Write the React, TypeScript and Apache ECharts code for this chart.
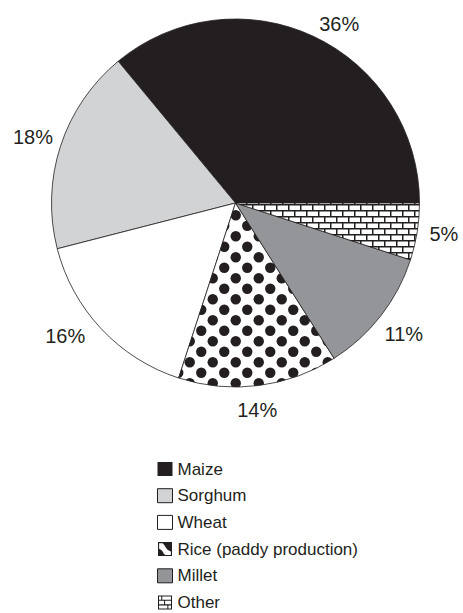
import React, { useEffect, useRef } from "react";
import * as echarts from "echarts";

// ---- data ----
const categories = [
  "Maize",
  "Sorghum",
  "Wheat",
  "Rice (paddy production)",
  "Millet",
  "Other",
];
const shares = [36, 18, 16, 14, 11, 5];
const labelSuffix = "%";

// ---- styles ----
const INK = "#231f20";
const FONT = "'Liberation Sans', Arial, Helvetica, sans-serif";

function makeDots() {
  const w = 23;
  const h = 21;
  const c = document.createElement("canvas");
  c.width = w;
  c.height = h;
  const g = c.getContext("2d")!;
  g.fillStyle = "#ffffff";
  g.fillRect(0, 0, w, h);
  g.fillStyle = INK;
  g.beginPath();
  g.arc(5.75, 5.25, 5.2, 0, Math.PI * 2);
  g.fill();
  g.beginPath();
  g.arc(17.25, 15.75, 5.2, 0, Math.PI * 2);
  g.fill();
  return { image: c, repeat: "repeat", imageWidth: w, imageHeight: h };
}

function makeBricks() {
  const w = 12;
  const h = 12;
  const c = document.createElement("canvas");
  c.width = w;
  c.height = h;
  const g = c.getContext("2d")!;
  g.fillStyle = "#ffffff";
  g.fillRect(0, 0, w, h);
  g.fillStyle = INK;
  g.fillRect(0, 0, w, 1.5);
  g.fillRect(0, 6, w, 1.5);
  g.fillRect(0, 0, 1.5, 6);
  g.fillRect(6, 6, 1.5, 6);
  return { image: c, repeat: "repeat", imageWidth: w, imageHeight: h };
}

const RICE_ICON =
  "path://M0 0H15V15H0Z M1.2 1.2V13.8H13.8V1.2Z M5 1.2H13.8V10Q10 9 8.5 6Q7 3 5 1.2Z M1.2 7Q4 8 5 10Q6 13 8 13.8H1.2Z";
const OTHER_ICON =
  "path://M0 0H15V15H0Z M1.1 1.1V13.9H13.9V1.1Z M1 4.5H14V5.6H1Z M1 9.5H14V10.6H1Z M6.5 5.6H7.6V9.5H6.5Z M10 10.6H11.1V14H10Z M3.5 1H4.6V4.5H3.5Z";

export default function App() {
  const ref = useRef<HTMLDivElement>(null);

  useEffect(() => {
    if (!ref.current) return;
    const chart = echarts.init(ref.current, undefined, { renderer: "svg" });

    const fills: any[] = [
      INK,
      "#d1d3d4",
      "#ffffff",
      makeDots(),
      "#939598",
      makeBricks(),
    ];

    // small label nudges (style only) to mimic the original label placement
    const labelNudges: Record<string, number[]> = {
      Maize: [13, 14],
      Wheat: [-15, -13],
      "Rice (paddy production)": [-5, -4],
      Other: [-2, -2],
    };

    const legendStyles: any[] = [
      { icon: "rect", itemStyle: { color: INK, borderWidth: 0 } },
      { icon: "rect", itemStyle: { color: "#d1d3d4", borderColor: INK, borderWidth: 1 } },
      { icon: "rect", itemStyle: { color: "#ffffff", borderColor: INK, borderWidth: 1 } },
      { icon: RICE_ICON, itemStyle: { color: INK, borderWidth: 0 } },
      { icon: "rect", itemStyle: { color: "#939598", borderColor: INK, borderWidth: 1 } },
      { icon: OTHER_ICON, itemStyle: { color: INK, borderWidth: 0 } },
    ];

    const center = [235.5, 203];

    chart.setOption({
      animation: false,
      backgroundColor: "#ffffff",
      legend: {
        orient: "vertical",
        left: 157,
        top: 460.5,
        height: 200,
        padding: 0,
        itemWidth: 15,
        itemHeight: 14,
        itemGap: 9.7,
        selectedMode: false,
        textStyle: { fontFamily: FONT, fontSize: 17, color: INK },
        data: categories.map((name, i) => ({ name, ...legendStyles[i] })),
      },
      series: [
        {
          type: "pie",
          center,
          radius: 184,
          startAngle: 0,
          clockwise: false,
          silent: true,
          label: { show: false },
          labelLine: { show: false },
          emphasis: { disabled: true },
          itemStyle: { borderColor: INK, borderWidth: 0.8 },
          data: categories.map((name, i) => ({
            name,
            value: shares[i],
            itemStyle: { color: fills[i] },
          })),
        },
        {
          type: "pie",
          center,
          radius: [196, 224],
          startAngle: 0,
          clockwise: false,
          silent: true,
          emphasis: { disabled: true },
          itemStyle: { color: "rgba(0,0,0,0)", borderWidth: 0 },
          labelLine: { show: false },
          label: {
            show: true,
            position: "inside",
            formatter: (p: any) => `${p.value}${labelSuffix}`,
            fontFamily: FONT,
            fontSize: 20,
            color: INK,
            textBorderWidth: 0,
          },
          data: categories.map((name, i) => ({
            name,
            value: shares[i],
            label: labelNudges[name] ? { offset: labelNudges[name] } : undefined,
          })),
        },
      ],
    });

    return () => chart.dispose();
  }, []);

  return (
    <div
      ref={ref}
      style={{ position: "fixed", left: 0, top: 0, width: 463, height: 613 }}
    />
  );
}
